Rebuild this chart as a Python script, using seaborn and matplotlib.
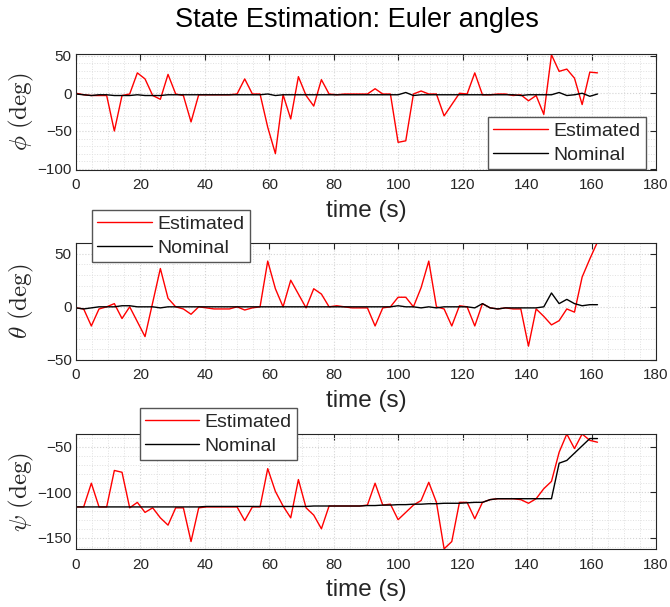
import matplotlib
matplotlib.use("Agg")
import matplotlib.pyplot as plt
from matplotlib.ticker import MultipleLocator
import seaborn as sns
import pandas as pd

# ---------------- data ----------------
time = [0.0, 2.38, 4.76, 7.14, 9.52, 11.9, 14.28, 16.66, 19.04, 21.42,
        23.8, 26.18, 28.56, 30.94, 33.32, 35.7, 38.08, 40.46, 42.84, 45.22,
        47.6, 49.98, 52.36, 54.74, 57.12, 59.5, 61.88, 64.26, 66.64, 69.02,
        71.4, 73.78, 76.16, 78.54, 80.92, 83.3, 85.68, 88.06, 90.44, 92.82,
        95.2, 97.58, 99.96, 102.34, 104.72, 107.1, 109.48, 111.86, 114.24, 116.62,
        119.0, 121.38, 123.76, 126.14, 128.52, 130.9, 133.28, 135.66, 138.04, 140.42,
        142.8, 145.18, 147.56, 149.94, 152.32, 154.7, 157.08, 159.46, 161.84]

phi_est = [0, -2, -3, -3, -3, -50, -3, -1, 27, 19,
           -3, -8, 25, -1, -3, -38, -2, -2, -2, -2,
           -2, -1, 19, -1, -1, -45, -80, -2, -34, 22,
           -3, -17, 18, -1, -2, -1, -1, -1, -1, 6,
           -1, -1, -65, -63, -1, 3, -1, -1, -30, -15,
           0, -1, 27, -2, -2, -1, -1, -3, -2, -10,
           -3, -28, 51, 29, 32, 20, -15, 28, 27]
phi_nom = [-1, -2, -3, -2, -2, -3, -3, -3, -2, -3,
           -3, -3, -2, -2, -2, -2, -2, -2, -2, -2,
           -2, -2, -2, -2, -2, -1, -3, -2, -2, -2,
           -2, -2, -2, -2, -2, -2, -2, -2, -2, -2,
           -2, -2, -2, 1, -3, -2, -2, -2, -2, -2,
           -2, -2, -2, -2, -2, -2, -2, -2, -3, -2,
           -2, -2, -2, 1, -3, -2, 0, -4, -1]

theta_est = [-1, -2, -18, -2, 0, 3, -11, 0, -14, -28,
             4, 36, 8, 0, -2, -7, 0, -1, -2, -2,
             -2, 0, -3, -1, 0, 43, 17, 0, 25, 12,
             -1, 17, 12, 0, 1, 0, -1, -1, -1, -18,
             -1, 0, 9, 9, 0, 18, 43, 0, -2, -18,
             1, 0, -18, 3, -1, -2, -1, -2, -2, -37,
             -2, -9, -17, -13, -2, -5, 28, 45, 61]
theta_nom = [-1, -2, -1, 0, 0, 0, 1, 1, 0, 0,
             0, -1, 0, 0, 0, 0, 0, 0, 0, 0,
             0, 0, 0, 0, 0, 0, 0, 0, 0, 0,
             0, 0, 0, 0, 0, 0, 0, 0, 0, 0,
             0, 0, 1, 0, 0, -1, 0, -1, 0, 0,
             0, 0, -1, 3, -1, -2, -1, -1, -1, -1,
             -1, 0, 13, 3, 7, 3, 1, 2, 2]

psi_est = [-116, -116, -90, -116, -116, -76, -78, -117, -111, -122,
           -117, -128, -136, -117, -117, -154, -117, -116, -116, -116,
           -116, -116, -131, -116, -116, -74, -99, -115, -128, -86,
           -117, -125, -140, -115, -115, -115, -115, -115, -114, -90,
           -114, -113, -130, -122, -114, -109, -89, -111, -162, -154,
           -111, -111, -129, -111, -108, -107, -107, -107, -108, -112,
           -107, -96, -88, -56, -36, -52, -36, -43, -45]
psi_nom = [-116, -116, -116, -116, -116, -116, -116, -116, -116, -116,
           -116, -116, -116, -116, -116, -116, -116, -115.5, -115.5, -115.5,
           -115.5, -115.5, -115.5, -115.5, -115.5, -115.5, -115.5, -115.5, -115.5, -115.5,
           -115.5, -115, -115, -115, -115, -115, -115, -115, -114.5, -114.5,
           -114, -114, -113.5, -113.5, -113, -113, -112.5, -112.5, -112, -112,
           -112, -111.5, -111, -111, -108, -107, -107, -107, -107, -107,
           -107, -107, -107, -68, -65, -57, -49, -41, -41]

x_ticks = [0, 20, 40, 60, 80, 100, 120, 140, 160, 180]
phi_ticks = [-100, -50, 0, 50]
theta_ticks = [-50, 0, 50]
psi_ticks = [-150, -100, -50]

# ---------------- style ----------------
sns.set_style("white")
plt.rcParams['font.family'] = ['Liberation Sans', 'DejaVu Sans']
plt.rcParams['mathtext.fontset'] = 'cm'

W, H = 670, 607
fig = plt.figure(figsize=(W / 100, H / 100), dpi=100)
fig.patch.set_facecolor('white')

ax_col = '#262626'
left_px, right_px = 76, 656
panels = [
    # (top_px, bottom_px, est, nom, ylim, yticks, ylabel, legend (left, top) px)
    (54, 169.5, phi_est, phi_nom, (-101, 52), phi_ticks, r'$\phi\ (\mathrm{deg})$', (488, 117)),
    (243, 360, theta_est, theta_nom, (-50, 60), theta_ticks, r'$\theta\ (\mathrm{deg})$', (92, 210)),
    (434, 549.3, psi_est, psi_nom, (-162.5, -36), psi_ticks, r'$\psi\ (\mathrm{deg})$', (139.5, 408)),
]

for top, bot, est, nom, ylim, yticks, ylabel, legpos in panels:
    ax = fig.add_axes([left_px / W, 1 - bot / H, (right_px - left_px) / W, (bot - top) / H])
    df = pd.DataFrame({'time': time, 'Estimated': est, 'Nominal': nom})
    sns.lineplot(data=df, x='time', y='Estimated', color='#ff0000', lw=1.0,
                 label='Estimated', ax=ax, estimator=None)
    sns.lineplot(data=df, x='time', y='Nominal', color='black', lw=1.0,
                 label='Nominal', ax=ax, estimator=None)
    ax.set_xlim(0, 180)
    ax.set_ylim(*ylim)
    ax.set_xticks(x_ticks)
    ax.set_yticks(yticks)
    ax.xaxis.set_minor_locator(MultipleLocator(5))
    ax.yaxis.set_minor_locator(MultipleLocator(10))
    ax.grid(which='major', color='#d4d4d4', linestyle=':', linewidth=0.8)
    ax.grid(which='minor', color='#e0e0e0', linestyle=':', linewidth=0.7)
    ax.set_axisbelow(True)
    ax.tick_params(which='major', direction='in', length=4.5, width=0.8, top=True, right=True,
                   labelsize=11, colors=ax_col, pad=3)
    ax.tick_params(axis='x', which='major', pad=6)
    ax.tick_params(which='minor', length=0, top=True, right=True)
    for sp in ax.spines.values():
        sp.set_color(ax_col)
        sp.set_linewidth(0.8)
    hpx = bot - top
    ax.set_xlabel('time (s)', fontsize=17.5, color=ax_col)
    ax.xaxis.set_label_coords(0.5, -30 / hpx)
    ax.set_ylabel(ylabel, fontsize=18, color=ax_col)
    ax.yaxis.set_label_coords(-40 / (right_px - left_px), 0.5)
    leg = ax.legend(loc='upper left', bbox_to_anchor=(legpos[0] / W, 1 - legpos[1] / H),
                    bbox_transform=fig.transFigure, borderaxespad=0, fontsize=14,
                    handlelength=2.8, handletextpad=0.27, borderpad=0.28, labelspacing=0.32,
                    fancybox=False, framealpha=1, edgecolor='#555555')
    leg.get_frame().set_linewidth(1.0)

fig.text(357 / W, 1 - 20 / H, 'State Estimation: Euler angles', ha='center', va='center',
         fontsize=19.5, color='black')

fig.savefig('out.png', dpi=100)
